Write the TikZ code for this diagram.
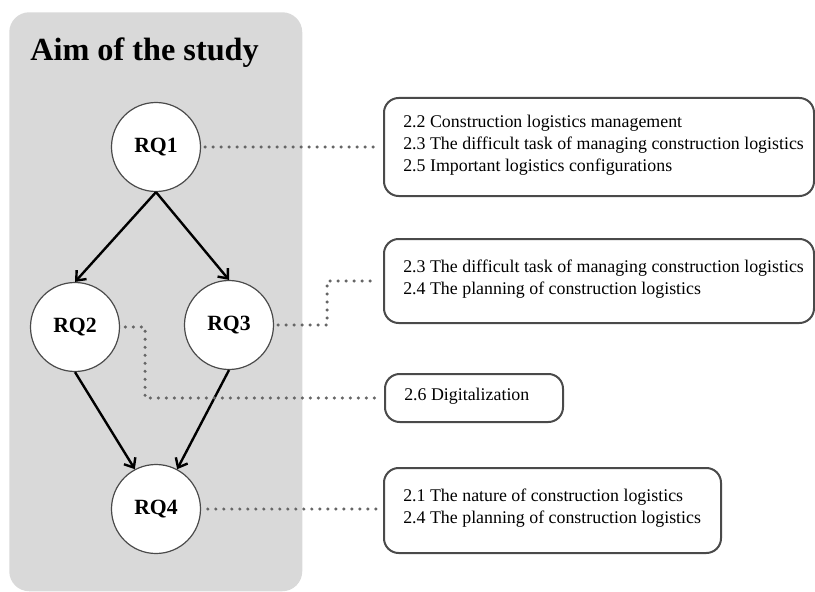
\documentclass[tikz,border=0pt]{standalone}
\usepackage{fontspec}
\setmainfont{Liberation Serif}
\usetikzlibrary{arrows.meta}
\definecolor{panelgray}{HTML}{D9D9D9}
\definecolor{edgegray}{HTML}{4A4A4A}
\definecolor{dotgray}{HTML}{666666}
\begin{document}
\begin{tikzpicture}[x=0.75pt,y=-0.75pt,
  rq/.style={circle,draw=edgegray,line width=0.9pt,fill=white,minimum size=66.75pt,inner sep=0pt,font=\rmfamily\fontsize{16.3}{18}\selectfont\bfseries},
  topic/.style={draw=edgegray,line width=1.5pt,rounded corners=11pt,inner sep=0pt,anchor=north west},
  topictext/.style={anchor=west,align=left,inner sep=0pt,font=\rmfamily\fontsize{13.4}{16.5}\selectfont},
  dotline/.style={draw=dotgray,line width=2.6pt,line cap=round,dash pattern=on 0pt off 6pt},
  arr/.style={line width=1.8pt,-{Straight Barb[length=6pt,width=10pt]}}]
\useasboundingbox (0,0) rectangle (815,592);
% panel
\node[fill=panelgray,rounded corners=15pt,anchor=north west,inner sep=0pt,minimum width=219.75pt,minimum height=434.25pt] (panel) at (9,12) {};
\node[anchor=base west,inner sep=0pt,font=\rmfamily\fontsize{24.2}{28}\selectfont\bfseries] (title) at (30,61) {Aim of the study};
% research questions
\node[rq] (rq1) at (156,147) {RQ1};
\node[rq] (rq2) at (75,327) {RQ2};
\node[rq] (rq3) at (229,325) {RQ3};
\node[rq] (rq4) at (156,509) {RQ4};
% topic boxes
\node[topic,minimum width=322.5pt,minimum height=73.5pt] (b1) at (383,97) {};
\node[topic,minimum width=322.5pt,minimum height=63pt] (b2) at (383,238) {};
\node[topic,minimum width=133.5pt,minimum height=36pt] (b3) at (384,373) {};
\node[topic,minimum width=252.75pt,minimum height=63.75pt] (b4) at (383,467) {};
\node[topictext] (t1) at ([xshift=15pt,yshift=1.5pt]b1.west) {2.2 Construction logistics management\\2.3 The difficult task of managing construction logistics\\2.5 Important logistics configurations};
\node[topictext] (t2) at ([xshift=15pt,yshift=1.5pt]b2.west) {2.3 The difficult task of managing construction logistics\\2.4 The planning of construction logistics};
\node[topictext] (t3) at ([xshift=15pt,yshift=1pt]b3.west) {2.6 Digitalization};
\node[topictext] (t4) at ([xshift=15pt,yshift=1.5pt]b4.west) {2.1 The nature of construction logistics\\2.4 The planning of construction logistics};
% arrows
\draw[arr] (rq1.south) -- (rq2.north);
\draw[arr] (rq1.south) -- (rq3.north);
\draw[arr] (rq2.south) -- (rq4.118);
\draw[arr] (rq3.south) -- (rq4.62);
% dotted connectors
\draw[dotline,shorten <=3pt,shorten >=5pt] (rq1) -- (rq1 -| b1.west);
\draw[dotline,shorten <=3pt,shorten >=5pt] (rq3.east) -- ++(53,0) |- (b2.west);
\draw[dotline,shorten <=4pt,shorten >=5pt] (rq2.east) -- ++(25,0) |- (b3.west);
\draw[dotline,shorten <=5pt,shorten >=5pt] (rq4) -- (rq4 -| b4.west);
\end{tikzpicture}
\end{document}
